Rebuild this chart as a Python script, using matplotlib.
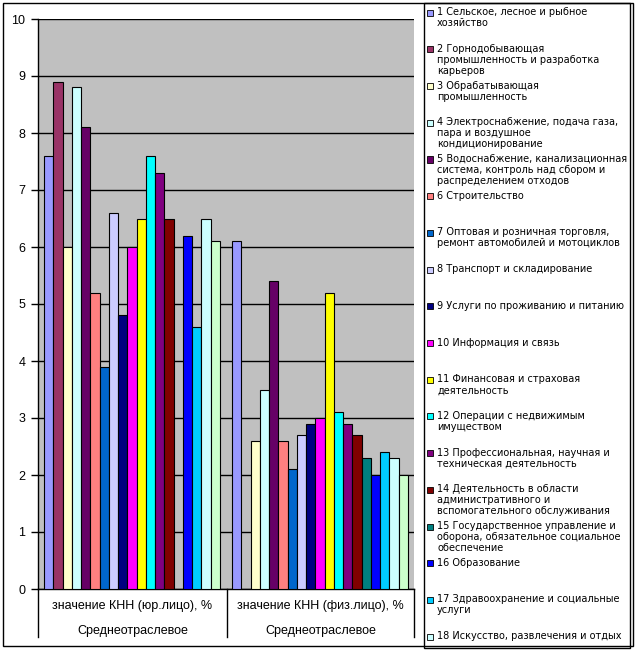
import numpy as np
import matplotlib.pyplot as plt
from matplotlib.patches import Rectangle
from matplotlib.lines import Line2D

categories = ['значение КНН (юр.лицо), %', 'значение КНН (физ.лицо), %']
group_label = 'Среднеотраслевое'

series_names = [
    '1 Сельское, лесное и рыбное\nхозяйство',
    '2 Горнодобывающая\nпромышленность и разработка\nкарьеров',
    '3 Обрабатывающая\nпромышленность',
    '4 Электроснабжение, подача газа,\nпара и воздушное\nкондиционирование',
    '5 Водоснабжение, канализационная\nсистема, контроль над сбором и\nраспределением отходов',
    '6 Строительство',
    '7 Оптовая и розничная торговля,\nремонт автомобилей и мотоциклов',
    '8 Транспорт и складирование',
    '9 Услуги по проживанию и питанию',
    '10 Информация и связь',
    '11 Финансовая и страховая\nдеятельность',
    '12 Операции с недвижимым\nимуществом',
    '13 Профессиональная, научная и\nтехническая деятельность',
    '14 Деятельность в области\nадминистративного и\nвспомогательного обслуживания',
    '15 Государственное управление и\nоборона, обязательное социальное\nобеспечение',
    '16 Образование',
    '17 Здравоохранение и социальные\nуслуги',
    '18 Искусство, развлечения и отдых',
    '19 Предоставление прочих видов услуг',
]

# values per series: [юр.лицо, физ.лицо]
legal = [7.6, 8.9, 6.0, 8.8, 8.1, 5.2, 3.9, 6.6, 4.8, 6.0,
         6.5, 7.6, 7.3, 6.5, np.nan, 6.2, 4.6, 6.5, 6.1]
physical = [6.1, np.nan, 2.6, 3.5, 5.4, 2.6, 2.1, 2.7, 2.9, 3.0,
            5.2, 3.1, 2.9, 2.7, 2.3, 2.0, 2.4, 2.3, 2.0]

colors = ['#9999FF', '#993366', '#FFFFCC', '#CCFFFF', '#660066', '#FF8080',
          '#0066CC', '#CCCCFF', '#000080', '#FF00FF', '#FFFF00', '#00FFFF',
          '#800080', '#800000', '#008080', '#0000FF', '#00CCFF', '#CCFFFF',
          '#CCFFCC']

W, H = 639, 650
fig = plt.figure(figsize=(W / 100, H / 100), dpi=100)

def px(x, y):
    return x / W, 1 - y / H

# outer chart border
fig.add_artist(Rectangle(px(3, 646), 630 / W, 643 / H, transform=fig.transFigure,
                         fill=False, edgecolor='black', linewidth=1))

x0, y0 = px(38, 589)
x1, y1 = px(414, 19)
ax = fig.add_axes([x0, y0, x1 - x0, y1 - y0])
ax.set_facecolor('#C0C0C0')

n = len(series_names)
bw = 0.935 / n
xpos = np.arange(len(categories))
for i in range(n):
    off = (i - (n - 1) / 2) * bw
    ax.bar(xpos + off, [legal[i], physical[i]], width=bw, color=colors[i],
           edgecolor='black', linewidth=0.8, zorder=3)

ax.set_xlim(-0.5, 1.5)
ax.set_ylim(0, 10)
ax.set_yticks(range(0, 11))
ax.yaxis.grid(True, color='black', linewidth=1, zorder=0)
ax.set_axisbelow(True)
ax.tick_params(axis='y', direction='out', length=5, width=1, labelsize=9, pad=4)
ax.set_xticks([])
for s in ['top', 'right']:
    ax.spines[s].set_visible(False)
ax.spines['left'].set_linewidth(1)
ax.spines['bottom'].set_linewidth(1)
for lbl in ax.get_yticklabels():
    lbl.set_family('Liberation Sans')

# category separators and labels
for xs in [38, 227, 414]:
    fig.add_artist(Line2D([xs / W, xs / W], [1 - 589 / H, 1 - 637 / H],
                          transform=fig.transFigure, color='black', linewidth=1))
for xc, cat in zip([132.5, 320.5], categories):
    fig.text(xc / W, 1 - 606 / H, cat, ha='center', va='center', fontsize=9,
             family='Liberation Sans')
    fig.text(xc / W, 1 - 631 / H, group_label, ha='center', va='center', fontsize=9,
             family='Liberation Sans')

# legend box
fig.add_artist(Rectangle(px(424, 648), 206 / W, 645 / H, transform=fig.transFigure,
                         fill=False, edgecolor='black', linewidth=1))
for i in range(n):
    yc = 12.7 + 36.7 * i
    if yc > 645:
        continue
    fig.add_artist(Rectangle(px(427, yc + 3), 6 / W, 6 / H, transform=fig.transFigure,
                             facecolor=colors[i], edgecolor='black', linewidth=0.6))
    fig.text(437 / W, 1 - (yc - 5.5) / H, series_names[i], ha='left', va='top',
             fontsize=7, linespacing=1.12, family='DejaVu Sans')

fig.savefig('out.png', dpi=100)
